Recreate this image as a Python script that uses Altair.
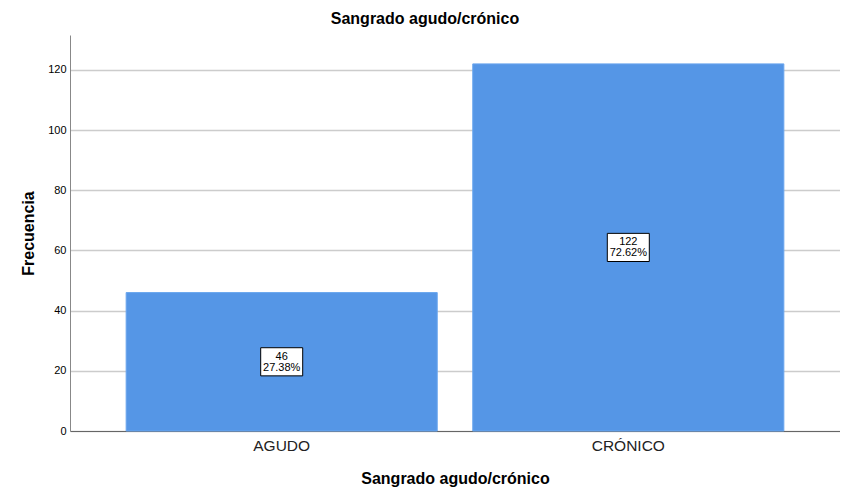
import altair as alt
import pandas as pd

categories = ["AGUDO", "CRÓNICO"]
counts = [46, 122]
percents = ["27.38%", "72.62%"]

df = pd.DataFrame({"cat": categories, "n": counts, "pct": percents})
df["mid"] = df["n"] / 2
df["label"] = df["n"].astype(str) + "\n" + df["pct"]

FONT = "Liberation Sans"

x = alt.X("cat:N", sort=categories,
          scale=alt.Scale(paddingInner=0.1025, paddingOuter=0.162),
          axis=alt.Axis(title="Sangrado agudo/crónico", labelAngle=0, ticks=False,
                        labelFontSize=15.5, labelColor="#222222", labelPadding=7,
                        titleFontSize=16, titleFontWeight="bold", titleColor="#000000",
                        titlePadding=17, domainColor="#666666", grid=False,
                        labelFont=FONT, titleFont=FONT))
y = alt.Y("n:Q", scale=alt.Scale(domain=[0, 131.6], nice=False),
          axis=alt.Axis(title="Frecuencia", values=[0, 20, 40, 60, 80, 100, 120],
                        ticks=False, labelFontSize=11, labelColor="#000000", labelPadding=4,
                        titleFontSize=16, titleFontWeight="bold", titleColor="#000000",
                        titlePadding=11, domainColor="#888888", gridColor="#cccccc",
                        gridWidth=1.3, labelFont=FONT, titleFont=FONT))

bars = alt.Chart(df).mark_bar(color="#5596e6", stroke="#6aa6ee", strokeWidth=1).encode(x=x, y=y)

boxes = alt.Chart(df).mark_point(
    shape="M-1,-0.67L1,-0.67L1,0.67L-1,0.67Z", size=1764, filled=True,
    fill="white", stroke="black", strokeWidth=1, opacity=1
).encode(x=alt.X("cat:N", sort=categories), y=alt.Y("mid:Q"))

labels = alt.Chart(df).mark_text(
    font=FONT, fontSize=11, color="black", lineBreak="\n", baseline="middle",
    align="center", lineHeight=11, dy=-5
).encode(x=alt.X("cat:N", sort=categories), y=alt.Y("mid:Q"), text="label:N")

chart = alt.layer(bars, boxes, labels).properties(
    width=770, height=396,
    title=alt.TitleParams("Sangrado agudo/crónico", fontSize=16, fontWeight="bold",
                          font=FONT, anchor="middle", frame="group", dx=-30, offset=8,
                          color="#000000"),
    autosize=alt.AutoSizeParams(type="none"),
    padding={"left": 62, "top": 27, "right": 0, "bottom": 60}
).configure_view(stroke=None)

chart.save("out.html", embed_options={"renderer": "svg", "actions": False})
